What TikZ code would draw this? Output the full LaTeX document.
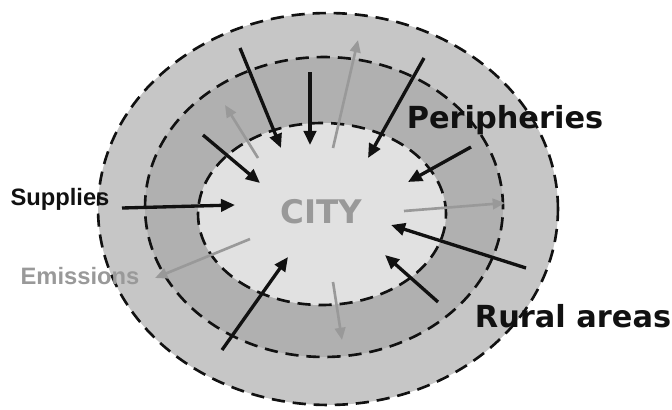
\documentclass[tikz,border=0pt]{standalone}
\usepackage{fontspec}
\usepackage{xcolor}
\usepackage{tikz}
\usetikzlibrary{arrows.meta,shapes.geometric}
\newfontfamily\verdfont{DejaVu Sans}
\newfontfamily\arialfont{Liberation Sans}
\definecolor{ringout}{HTML}{C6C6C6}
\definecolor{ringmid}{HTML}{B0B0B0}
\definecolor{core}{HTML}{E1E1E1}
\definecolor{emit}{HTML}{999999}
\definecolor{ink}{HTML}{111111}
\tikzset{
  zone/.style={ellipse,draw=ink,line width=1.5pt,dash pattern=on 7.5pt off 4.5pt,inner sep=0pt},
  flowin/.style={-{Triangle[length=8pt,width=7pt]},line width=1.9pt,color=ink},
  flowout/.style={-{Triangle[length=7pt,width=6pt]},line width=1.5pt,color=emit},
  biglbl/.style={font=\verdfont\bfseries\fontsize{17.3}{20}\selectfont,text=ink,inner sep=0pt},
  smalllbl/.style={font=\arialfont\bfseries\fontsize{13.5}{16}\selectfont,inner sep=0pt},
}

\begin{document}
\begin{tikzpicture}[x=0.02cm,y=-0.02cm]
    \useasboundingbox (0,0) rectangle (672,409);
    % rings
    \node[zone,fill=ringout,minimum width=9.2cm,minimum height=7.84cm] (outer) at (328,209) {};
    \node[zone,fill=ringmid,minimum width=7.16cm,minimum height=6cm] (mid) at (324,207) {};
    \node[zone,fill=core,minimum width=4.96cm,minimum height=3.64cm] (inner) at (322,214) {};
    % arrow ends
    \coordinate (b1s) at (240,48);  \coordinate (b1e) at (281,148);
    \coordinate (b2s) at (310,72);  \coordinate (b2e) at (310,145);
    \coordinate (b3s) at (203,135); \coordinate (b3e) at (260,183);
    \coordinate (b4s) at (122,208); \coordinate (b4e) at (235,205);
    \coordinate (b5s) at (424,58);  \coordinate (b5e) at (368,158);
    \coordinate (b6s) at (471,147); \coordinate (b6e) at (408,182);
    \coordinate (b7s) at (526,268); \coordinate (b7e) at (391,225);
    \coordinate (b8s) at (438,302); \coordinate (b8e) at (385,255);
    \coordinate (b9s) at (222,350); \coordinate (b9e) at (288,257);
    \coordinate (g1s) at (258,158); \coordinate (g1e) at (225,105);
    \coordinate (g2s) at (333,148); \coordinate (g2e) at (358,40);
    \coordinate (g3s) at (404,211); \coordinate (g3e) at (505,203);
    \coordinate (g4s) at (250,239); \coordinate (g4e) at (155,278);
    \coordinate (g5s) at (333,282); \coordinate (g5e) at (342,340);
    % supplies in
    \foreach \i in {1,...,9}
      \draw[flowin] (b\i s) -- (b\i e);
    % emissions out
    \foreach \i in {1,...,5}
      \draw[flowout] (g\i s) -- (g\i e);
    % labels
    \node[font=\verdfont\bfseries\fontsize{18.5}{21}\selectfont,text=emit,inner sep=0pt] (city) at (321,212) {CITY};
    \node[biglbl] (peri) at (505,120) {Peripheries};
    \node[biglbl] (rural) at (573,316) {Rural areas};
    \node[smalllbl,text=ink] (supp) at (60,199) {Supplies};
    \node[smalllbl,text=emit] (emis) at (80,276) {Emissions};
  \end{tikzpicture}
\end{document}
